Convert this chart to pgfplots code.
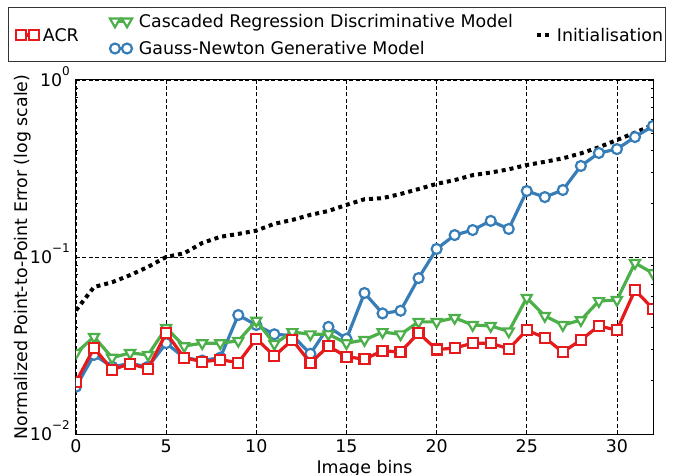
\documentclass[border=0pt]{standalone}
\usepackage{fontspec}
\setmainfont{DejaVu Sans}
\usepackage{pgfplots}
\pgfplotsset{compat=1.18}
\definecolor{cred}{HTML}{E41A1C}
\definecolor{cgreen}{HTML}{4DAF4A}
\definecolor{cblue}{HTML}{377EB8}
\pgfplotsset{
  legA/.style={legend image code/.code={\path[draw=none,fill=none] (0bp,-6bp) rectangle (34bp,6bp); \draw[##1,overlay,yshift=-13.5bp] plot coordinates {(12bp,0bp) (25bp,0bp)};}},
  legB/.style={legend image code/.code={\path[draw=none,fill=none] (0bp,-6bp) rectangle (36bp,6bp); \draw[##1] plot coordinates {(12bp,0bp) (24bp,0bp)};}},
  legC/.style={legend image code/.code={\path[draw=none,fill=none] (0bp,-6bp) rectangle (30bp,6bp); \draw[##1,overlay,yshift=-13.5bp] (10bp,0bp) -- (22bp,0bp);}},
}
\begin{document}
\begin{tikzpicture}[font=\fontsize{17.4bp}{20bp}\selectfont]
\begin{axis}[
  scale only axis, width=577bp, height=354bp,
  ymode=log, xmin=0, xmax=32, ymin=0.01, ymax=1,
  xtick={0,5,10,15,20,25,30}, xticklabels={0,5,10,15,20,25,30},
  ytick={0.01,0.1,1},
  yticklabels={10\raisebox{0.62em}{\fontsize{12bp}{12bp}\selectfont −2},10\raisebox{0.62em}{\fontsize{12bp}{12bp}\selectfont −1},10\raisebox{0.62em}{\fontsize{12bp}{12bp}\selectfont 0}},
  minor ytick={0.02,0.03,0.04,0.05,0.06,0.07,0.08,0.09,0.2,0.3,0.4,0.5,0.6,0.7,0.8,0.9},
  xticklabel style={anchor=base, yshift=-18bp},
  yticklabel style={anchor=base east, yshift=-6.3bp, inner sep=0pt, xshift=-6bp},
  tick align=inside, major tick length=4bp, minor tick length=2bp,
  tick style={black, line width=0.8bp},
  axis line style={black, line width=1bp},
  xmajorgrids, ymajorgrids,
  major grid style={black, line width=0.7bp, dash pattern=on 4bp off 2.5bp},
  xlabel={Image bins}, ylabel={Normalized Point-to-Point Error (log scale)},
  every axis x label/.style={at={(axis description cs:0.5,-0.11017)}, anchor=base},
  every axis y label/.style={at={(axis description cs:-0.08319,0.5)}, anchor=base, rotate=90},
  clip marker paths=true,
  legend columns=3,
  legend style={at={(-0.11612,1.20339)}, anchor=north west, inner sep=0pt, outer sep=0pt,
    draw=black!80, line width=1bp, column sep=0pt, row sep=0pt,
    nodes={inner sep=0pt, text height=19.8bp, text depth=7.2bp, anchor=west}},
]
% legend entries
\addlegendimage{cred, line width=3.2bp, mark=square*, mark size=5bp, mark options={solid, fill=white, line width=2.2bp}, legA}
\addlegendentry{\makebox[60bp][l]{\raisebox{-13.5bp}{ACR}}}
\addlegendimage{cgreen, line width=3.2bp, mark=triangle*, mark size=5.8bp, mark options={solid, fill=white, line width=2.2bp, rotate=180}, legB}
\addlegendentry{\makebox[388bp][l]{Cascaded Regression Discriminative Model}}
\addlegendimage{black, line width=4bp, dash pattern=on 4bp off 4bp, legC}
\addlegendentry{\makebox[108bp][l]{\raisebox{-13.5bp}{Initialisation}}}
\addlegendimage{empty legend}
\addlegendentry{}
\addlegendimage{cblue, line width=3.2bp, mark=*, mark size=5bp, mark options={solid, fill=white, line width=2.2bp}, legB}
\addlegendentry{\makebox[388bp][l]{Gauss-Newton Generative Model}}
\addlegendimage{empty legend}
\addlegendentry{}
% Initialisation
\addplot[forget plot, black, line width=4bp, dash pattern=on 4bp off 4bp] coordinates {
(0,0.050) (1,0.0677) (2,0.072) (3,0.079) (4,0.088) (5,0.100) (6,0.105) (7,0.120) (8,0.130)
(9,0.135) (10,0.141) (11,0.154) (12,0.162) (13,0.173) (14,0.182) (15,0.197) (16,0.212)
(17,0.215) (18,0.227) (19,0.242) (20,0.259) (21,0.272) (22,0.290) (23,0.300) (24,0.313)
(25,0.331) (26,0.345) (27,0.361) (28,0.385) (29,0.417) (30,0.458) (31,0.504) (32,0.557)};
% Gauss-Newton
\addplot[forget plot, cblue, line width=3.2bp, mark=*, mark size=5bp, mark options={solid, fill=white, line width=2.2bp}] coordinates {
(0,0.0185) (1,0.028) (2,0.024) (3,0.025) (4,0.024) (5,0.0326) (6,0.027) (7,0.026) (8,0.027)
(9,0.047) (10,0.0413) (11,0.0366) (12,0.036) (13,0.0284) (14,0.0403) (15,0.0345) (16,0.0626)
(17,0.048) (18,0.0497) (19,0.076) (20,0.111) (21,0.133) (22,0.142) (23,0.160) (24,0.144)
(25,0.236) (26,0.218) (27,0.239) (28,0.327) (29,0.387) (30,0.407) (31,0.476) (32,0.550)};
% Cascaded
\addplot[forget plot, cgreen, line width=3.2bp, mark=triangle*, mark size=5.8bp, mark options={solid, fill=white, line width=2.2bp, rotate=180}] coordinates {
(0,0.0287) (1,0.0354) (2,0.027) (3,0.0287) (4,0.028) (5,0.0398) (6,0.0314) (7,0.0326) (8,0.0326)
(9,0.0336) (10,0.0437) (11,0.0323) (12,0.0377) (13,0.0366) (14,0.0366) (15,0.0326) (16,0.034)
(17,0.0377) (18,0.0366) (19,0.043) (20,0.043) (21,0.0453) (22,0.0413) (23,0.0408) (24,0.038)
(25,0.0588) (26,0.0465) (27,0.0413) (28,0.044) (29,0.0564) (30,0.0572) (31,0.0925) (32,0.081)};
% ACR
\addplot[forget plot, cred, line width=3.2bp, mark=square*, mark size=5bp, mark options={solid, fill=white, line width=2.2bp}] coordinates {
(0,0.0197) (1,0.0306) (2,0.0231) (3,0.0249) (4,0.0234) (5,0.0372) (6,0.027) (7,0.0256) (8,0.0263)
(9,0.0253) (10,0.0345) (11,0.0276) (12,0.034) (13,0.0252) (14,0.0314) (15,0.0273) (16,0.0265)
(17,0.0295) (18,0.0291) (19,0.0372) (20,0.030) (21,0.0306) (22,0.0326) (23,0.0326) (24,0.0303)
(25,0.0386) (26,0.035) (27,0.029) (28,0.034) (29,0.0408) (30,0.0386) (31,0.065) (32,0.051)};
\end{axis}
\pgfresetboundingbox
\path[use as bounding box] ([xshift=-76bp,yshift=-41bp]current axis.south west) rectangle ([xshift=20bp,yshift=80bp]current axis.north east);
\end{tikzpicture}
\end{document}
